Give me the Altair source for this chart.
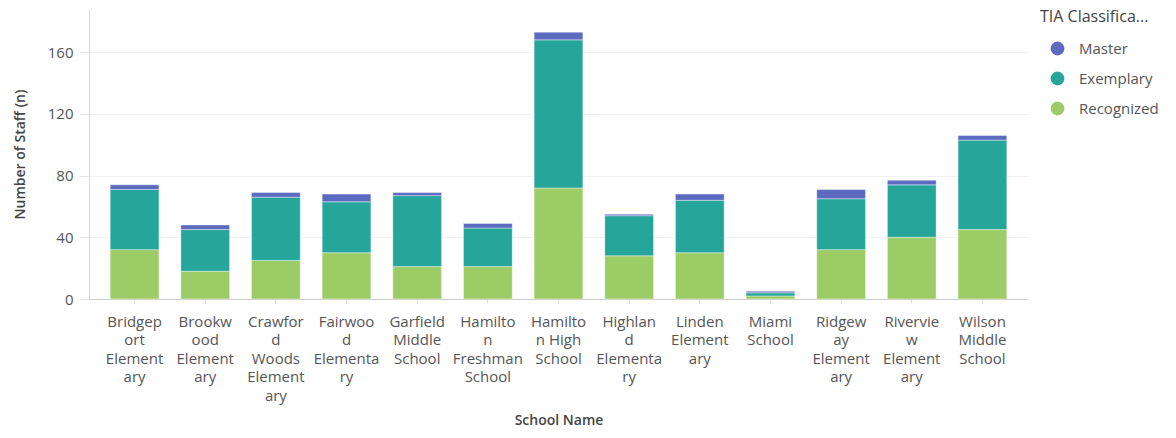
import json
import altair as alt
import pandas as pd

schools = [
    "Bridgeport Elementary", "Brookwood Elementary", "Crawford Woods Elementary",
    "Fairwood Elementary", "Garfield Middle School", "Hamilton Freshman School",
    "Hamilton High School", "Highland Elementary", "Linden Elementary",
    "Miami School", "Ridgeway Elementary", "Riverview Elementary", "Wilson Middle School",
]
school_label_lines = [
    ["Bridgep", "ort", "Element", "ary"],
    ["Brookw", "ood", "Element", "ary"],
    ["Crawfor", "d", "Woods", "Element", "ary"],
    ["Fairwoo", "d", "Elementa", "ry"],
    ["Garfield", "Middle", "School"],
    ["Hamilto", "n", "Freshman", "School"],
    ["Hamilto", "n High", "School"],
    ["Highlan", "d", "Elementa", "ry"],
    ["Linden", "Element", "ary"],
    ["Miami", "School"],
    ["Ridgew", "ay", "Element", "ary"],
    ["Rivervie", "w", "Element", "ary"],
    ["Wilson", "Middle", "School"],
]
classes = ["Master", "Exemplary", "Recognized"]
class_colors = ["#5c6bc0", "#26a69a", "#9ccc65"]
recognized = [32, 18, 25, 30, 21, 21, 72, 28, 30, 2, 32, 40, 45]
exemplary = [39, 27, 41, 33, 46, 25, 96, 26, 34, 2, 33, 34, 58]
master = [3, 3, 3, 5, 2, 3, 5, 1, 4, 1, 6, 3, 3]
y_ticks = [0, 40, 80, 120, 160]

rows = []
for i, s in enumerate(schools):
    rows.append({"school": s, "cls": "Recognized", "n": recognized[i], "ord": 0})
    rows.append({"school": s, "cls": "Exemplary", "n": exemplary[i], "ord": 1})
    rows.append({"school": s, "cls": "Master", "n": master[i], "ord": 2})
df = pd.DataFrame(rows)

label_map = json.dumps({s: l for s, l in zip(schools, school_label_lines)})

FONT = "Open Sans"

chart = alt.Chart(df).mark_bar(stroke="white", strokeWidth=0.4).encode(
    x=alt.X("school:N", sort=schools,
            scale=alt.Scale(paddingInner=0.31, paddingOuter=0.3),
            axis=alt.Axis(title="School Name", labelAngle=0, labelAlign="center",
                          labelBaseline="top", labelExpr=label_map + "[datum.value]",
                          labelFontSize=15, labelLineHeight=18.5, labelPadding=11,
                          labelColor="#555", labelLimit=200,
                          tickSize=4, tickColor="#dddddd", domainColor="#cccccc",
                          titleFontSize=14, titleFontWeight=600, titleColor="#444",
                          titleY=121, titleBaseline="middle", grid=False)),
    y=alt.Y("n:Q", stack="zero",
            scale=alt.Scale(domain=[0, 188], nice=False, zero=True),
            axis=alt.Axis(title="Number of Staff (n)", values=y_ticks,
                          labelFontSize=15, labelColor="#555", labelPadding=6,
                          tickSize=10, tickColor="#e6e6e6", domainColor="#d5d5d5",
                          gridColor="#f1f1f1", titleFontSize=14, titleFontWeight=600,
                          titleColor="#444", titlePadding=20)),
    color=alt.Color("cls:N", scale=alt.Scale(domain=classes, range=class_colors),
                    legend=alt.Legend(title="TIA Classifica...", orient="right", offset=12,
                                      symbolType="circle", symbolSize=190, symbolStrokeWidth=0,
                                      symbolOffset=10, labelOffset=14,
                                      labelFontSize=15, labelColor="#555",
                                      titleFontSize=16, titleFontWeight="normal",
                                      titleColor="#444", titlePadding=16, rowPadding=14,
                                      titleLimit=300)),
    order=alt.Order("ord:Q", sort="ascending"),
).properties(
    width=939, height=290,
    autosize=alt.AutoSizeParams(type="none"),
    padding={"left": 81, "top": 1, "right": 140, "bottom": 131},
).configure(font=FONT).configure_view(stroke=None)

chart.save("out.html", embed_options={"renderer": "svg", "actions": False})
